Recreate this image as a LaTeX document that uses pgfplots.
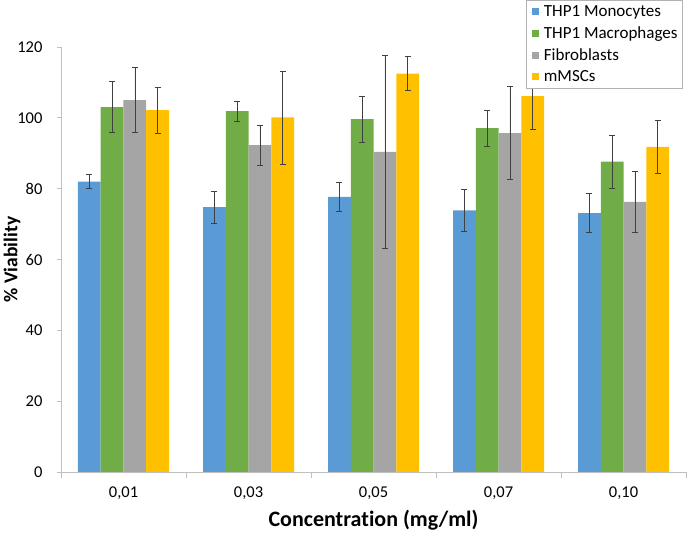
\documentclass[border=0pt]{standalone}
\usepackage{pgfplots}
\pgfplotsset{compat=1.18}
\usepackage{fontspec}
\setmainfont{Carlito}[Ligatures=NoCommon]
\definecolor{cblue}{HTML}{5B9BD5}
\definecolor{cgreen}{HTML}{70AD47}
\definecolor{cgray}{HTML}{A5A5A5}
\definecolor{cyellow}{HTML}{FFC000}
\definecolor{axgray}{HTML}{BFBFBF}
\pgfplotstableread{
x y e
0 82.0 2.0
1 74.8 4.5
2 77.7 4.0
3 73.9 6.0
4 73.1 5.5
}\mono
\pgfplotstableread{
x y e
0 103.0 7.2
1 101.9 2.9
2 99.6 6.6
3 97.1 5.0
4 87.6 7.6
}\macro
\pgfplotstableread{
x y e
0 105.0 9.2
1 92.3 5.7
2 90.4 27.2
3 95.7 13.1
4 76.3 8.7
}\fibro
\pgfplotstableread{
x y e
0 102.2 6.5
1 100.1 13.1
2 112.5 4.8
3 106.1 9.4
4 91.8 7.5
}\msc
\begin{document}
\begin{tikzpicture}
\useasboundingbox (-61pt,-65pt) rectangle (627pt,472pt);
\begin{axis}[
  scale only axis, width=625pt, height=425pt,
  at={(0,0)}, anchor=south west,
  ybar=0pt, bar width=22.75pt,
  xmin=-0.5, xmax=4.5, ymin=0, ymax=120,
  xtick={0,1,2,3,4},
  xticklabels={{0,01},{0,03},{0,05},{0,07},{0,10}},
  minor xtick={-0.5,0.5,1.5,2.5,3.5,4.5},
  major x tick style={draw=none},
  ytick={0,20,40,60,80,100,120},
  tick align=outside,
  major tick length=4pt, minor tick length=6pt,
  axis lines*=left,
  axis line style={draw=axgray, line width=0.8pt},
  tick style={draw=axgray, line width=0.8pt},
  ticklabel style={font=\fontsize{16.5}{19}\selectfont},
  /pgf/number format/assume math mode=true,
  x tick label style={yshift=-7pt},
  y tick label style={xshift=-11pt},
  xlabel={\bfseries Concentration (mg/ml)},
  ylabel={\bfseries\% Viability},
  xlabel style={font=\fontsize{22}{26}\selectfont, at={(axis description cs:0.5,-0.113)}, anchor=center},
  ylabel style={font=\fontsize{19.5}{23}\selectfont, at={(axis description cs:-0.0784,0.5)}, anchor=center},
  legend style={at={(0.995,1.1106)}, anchor=north east, draw=gray!60, line width=0.8pt,
    font=\fontsize{17}{20}\selectfont, row sep=4.7pt,
    inner xsep=3pt, inner ysep=3pt, cells={anchor=west}},
  legend image code/.code={\path (0pt,0pt) rectangle (13pt,0pt); \fill[#1, draw=none] (3pt,-3.5pt) rectangle (10pt,3.5pt);},
  error bars/error bar style={draw=black!75, line width=0.6pt},
  error bars/error mark options={rotate=90, mark size=3pt, draw=black!75, line width=0.6pt},
]
\addplot[fill=cblue, draw=none, error bars/.cd, y dir=both, y explicit] table[x=x, y=y, y error=e] {\mono};
\addplot[fill=cgreen, draw=none, error bars/.cd, y dir=both, y explicit] table[x=x, y=y, y error=e] {\macro};
\addplot[fill=cgray, draw=none, error bars/.cd, y dir=both, y explicit] table[x=x, y=y, y error=e] {\fibro};
\addplot[fill=cyellow, draw=none, error bars/.cd, y dir=both, y explicit] table[x=x, y=y, y error=e] {\msc};
\legend{THP1 Monocytes, THP1 Macrophages, Fibroblasts, mMSCs}
\end{axis}
\end{tikzpicture}
\end{document}
